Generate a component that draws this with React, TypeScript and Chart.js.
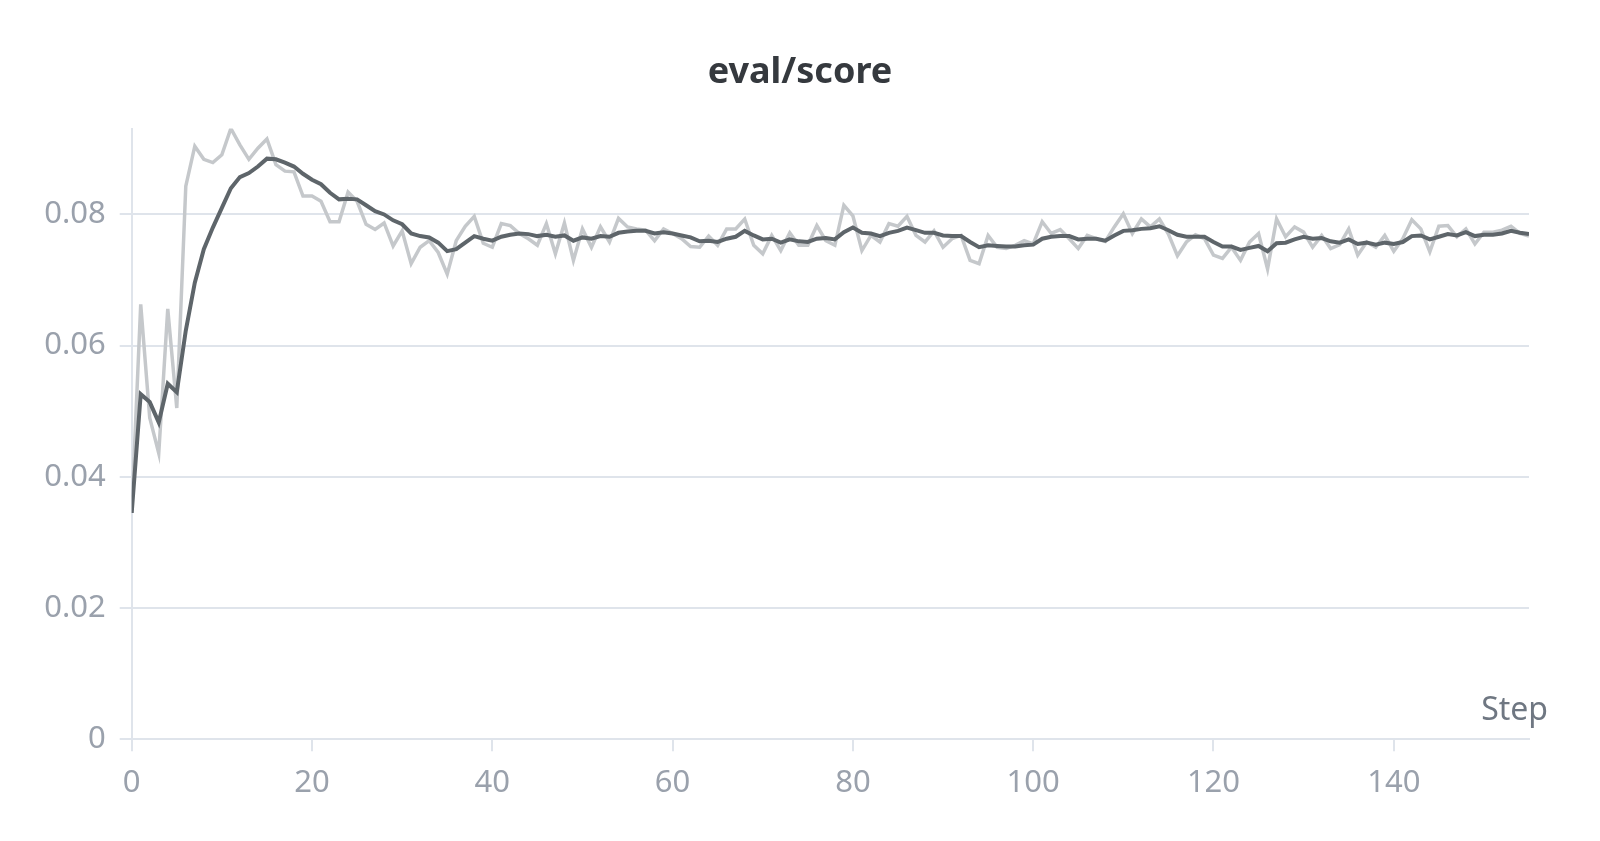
import { useEffect, useRef } from "react";
import { Chart, registerables } from "chart.js";

Chart.register(...registerables);

// eval/score per step (raw run values, light line)
const rawScore = [
  0.0345, 0.0663, 0.049, 0.0436, 0.0656, 0.0505, 0.0843, 0.0904, 0.0884, 0.0879,
  0.0891, 0.0931, 0.0906, 0.0884, 0.0901, 0.0915, 0.0876, 0.0866, 0.0865, 0.0828,
  0.0828, 0.082, 0.0789, 0.0789, 0.0834, 0.082, 0.0785, 0.0777, 0.0787, 0.0752,
  0.0775, 0.0725, 0.075, 0.076, 0.0742, 0.0709, 0.076, 0.0782, 0.0797, 0.0756,
  0.075, 0.0786, 0.0783, 0.0771, 0.0763, 0.0753, 0.0786, 0.074, 0.0787, 0.073,
  0.0778, 0.075, 0.0781, 0.0758, 0.0794, 0.0781, 0.0778, 0.0776, 0.076, 0.0778,
  0.0771, 0.0763, 0.0751, 0.075, 0.0767, 0.0753, 0.0778, 0.0778, 0.0793, 0.0753,
  0.074, 0.0768, 0.0745, 0.0772, 0.0753, 0.0753, 0.0783, 0.076, 0.0753, 0.0814,
  0.0798, 0.0745, 0.0768, 0.0758, 0.0786, 0.0782, 0.0797, 0.0768, 0.0758, 0.0775,
  0.075, 0.0763, 0.0768, 0.073, 0.0725, 0.0768, 0.075, 0.0748, 0.0753, 0.076,
  0.0755, 0.0789, 0.0771, 0.0777, 0.0763, 0.0748, 0.0768, 0.0763, 0.0759, 0.0781,
  0.0801, 0.0771, 0.0793, 0.0781, 0.0793, 0.077, 0.0737, 0.0758, 0.0769, 0.0763,
  0.0738, 0.0733, 0.075, 0.073, 0.0758, 0.0771, 0.0717, 0.0793, 0.0766, 0.0781,
  0.0773, 0.075, 0.0768, 0.0748, 0.0754, 0.0778, 0.0738, 0.0758, 0.075, 0.0768,
  0.0744, 0.0763, 0.0792, 0.0778, 0.0743, 0.0782, 0.0783, 0.0766, 0.0778, 0.0755,
  0.0773, 0.0773, 0.0776, 0.0782, 0.0771, 0.0767,
];

// smoothed curve (dark line)
const smoothScore = [
  0.0345, 0.0526, 0.0514, 0.0483, 0.0542, 0.0529, 0.0623, 0.0696, 0.0747, 0.078,
  0.081, 0.084, 0.0857, 0.0863, 0.0873, 0.0885, 0.0884, 0.0879, 0.0873, 0.0862,
  0.0853, 0.0846, 0.0833, 0.0823, 0.0824, 0.0823, 0.0814, 0.0805, 0.08, 0.0791,
  0.0785, 0.0771, 0.0767, 0.0765, 0.0757, 0.0744, 0.0747, 0.0757, 0.0767, 0.0763,
  0.076, 0.0766, 0.0769, 0.0771, 0.077, 0.0767, 0.0769, 0.0766, 0.0768, 0.076,
  0.0765, 0.0763, 0.0767, 0.0766, 0.0772, 0.0774, 0.0775, 0.0775, 0.0771, 0.0773,
  0.0771, 0.0768, 0.0765, 0.0759, 0.076, 0.0758, 0.0763, 0.0766, 0.0775, 0.0768,
  0.0762, 0.0763, 0.0757, 0.0762, 0.0759, 0.0758, 0.0763, 0.0764, 0.0762, 0.0773,
  0.078, 0.0772, 0.0771, 0.0767, 0.0772, 0.0775, 0.078, 0.0776, 0.0772, 0.0772,
  0.0768, 0.0767, 0.0767, 0.0758, 0.075, 0.0753, 0.0752, 0.0751, 0.0751, 0.0753,
  0.0754, 0.0763, 0.0766, 0.0767, 0.0767, 0.0762, 0.0763, 0.0763, 0.076, 0.0768,
  0.0775, 0.0776, 0.0778, 0.0779, 0.0782, 0.0776, 0.0769, 0.0766, 0.0766, 0.0766,
  0.0758, 0.0751, 0.0751, 0.0746, 0.0749, 0.0752, 0.0744, 0.0756, 0.0757, 0.0762,
  0.0766, 0.0763, 0.0764, 0.0759, 0.0757, 0.0762, 0.0755, 0.0757, 0.0754, 0.0757,
  0.0755, 0.0758, 0.0767, 0.0768, 0.0762, 0.0766, 0.077, 0.0768, 0.0773, 0.0767,
  0.0769, 0.0769, 0.0771, 0.0775, 0.0772, 0.077,
];

const xTicks = [0, 20, 40, 60, 80, 100, 120, 140];
const yTicks = [0, 0.02, 0.04, 0.06, 0.08];

const GRID = "#dfe4eb";
const TICK_COLOR = "#9aa1ac";
const FONT = "'Noto Sans', 'Open Sans', sans-serif";

// panel title (centred on the whole canvas) and the "Step" caption
const captions = {
  id: "captions",
  afterDraw(chart: Chart) {
    const { ctx, chartArea, width } = chart;
    ctx.save();
    ctx.font = `bold 36px ${FONT}`;
    ctx.fillStyle = "#35393e";
    ctx.textAlign = "center";
    ctx.textBaseline = "alphabetic";
    ctx.fillText("eval/score", width / 2, 83);

    ctx.font = `32px ${FONT}`;
    ctx.fillStyle = "#6f7782";
    ctx.textAlign = "right";
    ctx.fillText("Step", chartArea.right + 19, chartArea.bottom - 19);
    ctx.restore();
  },
};

export default function App() {
  const canvasRef = useRef<HTMLCanvasElement>(null);

  useEffect(() => {
    document.body.style.margin = "0";
    if (!canvasRef.current) return;

    const chart = new Chart(canvasRef.current, {
      type: "line",
      data: {
        datasets: [
          {
            label: "raw",
            data: rawScore.map((v, i) => ({ x: i, y: v })),
            borderColor: "#c5c8cb",
            borderWidth: 3.5,
            pointRadius: 0,
            tension: 0,
            order: 2,
          },
          {
            label: "smoothed",
            data: smoothScore.map((v, i) => ({ x: i, y: v })),
            borderColor: "#5e656a",
            borderWidth: 4,
            pointRadius: 0,
            tension: 0,
            order: 1,
          },
        ],
      },
      options: {
        animation: false,
        responsive: true,
        maintainAspectRatio: false,
        layout: { padding: { top: 128.5, right: 71, bottom: 0, left: 0 } },
        plugins: {
          legend: { display: false },
          tooltip: { enabled: false },
          title: { display: false },
        },
        scales: {
          x: {
            type: "linear",
            min: 0,
            max: rawScore.length - 1,
            afterBuildTicks: (scale: any) => {
              scale.ticks = xTicks.map((v) => ({ value: v }));
            },
            afterFit: (scale: any) => {
              scale.height = 101.7;
            },
            grid: {
              drawOnChartArea: false,
              drawTicks: true,
              tickLength: 12,
              color: GRID,
              lineWidth: 2,
            },
            border: { display: true, color: GRID, width: 2 },
            ticks: {
              color: TICK_COLOR,
              font: { family: FONT, size: 31 },
              padding: 13,
              maxRotation: 0,
            },
          },
          y: {
            type: "linear",
            min: 0,
            max: Math.max(...rawScore),
            afterBuildTicks: (scale: any) => {
              scale.ticks = yTicks.map((v) => ({ value: v }));
            },
            afterFit: (scale: any) => {
              scale.width = 131.7;
            },
            grid: {
              drawTicks: true,
              tickLength: 12,
              color: GRID,
              lineWidth: 2,
            },
            border: { display: true, color: GRID, width: 2 },
            ticks: {
              color: TICK_COLOR,
              font: { family: FONT, size: 31 },
              padding: 14,
              callback: (v: any) => (v === 0 ? "0" : Number(v).toFixed(2)),
            },
          },
        },
      },
      plugins: [captions],
    });

    return () => chart.destroy();
  }, []);

  return (
    <div style={{ position: "relative", width: 1600, height: 841 }}>
      <canvas ref={canvasRef} />
    </div>
  );
}
